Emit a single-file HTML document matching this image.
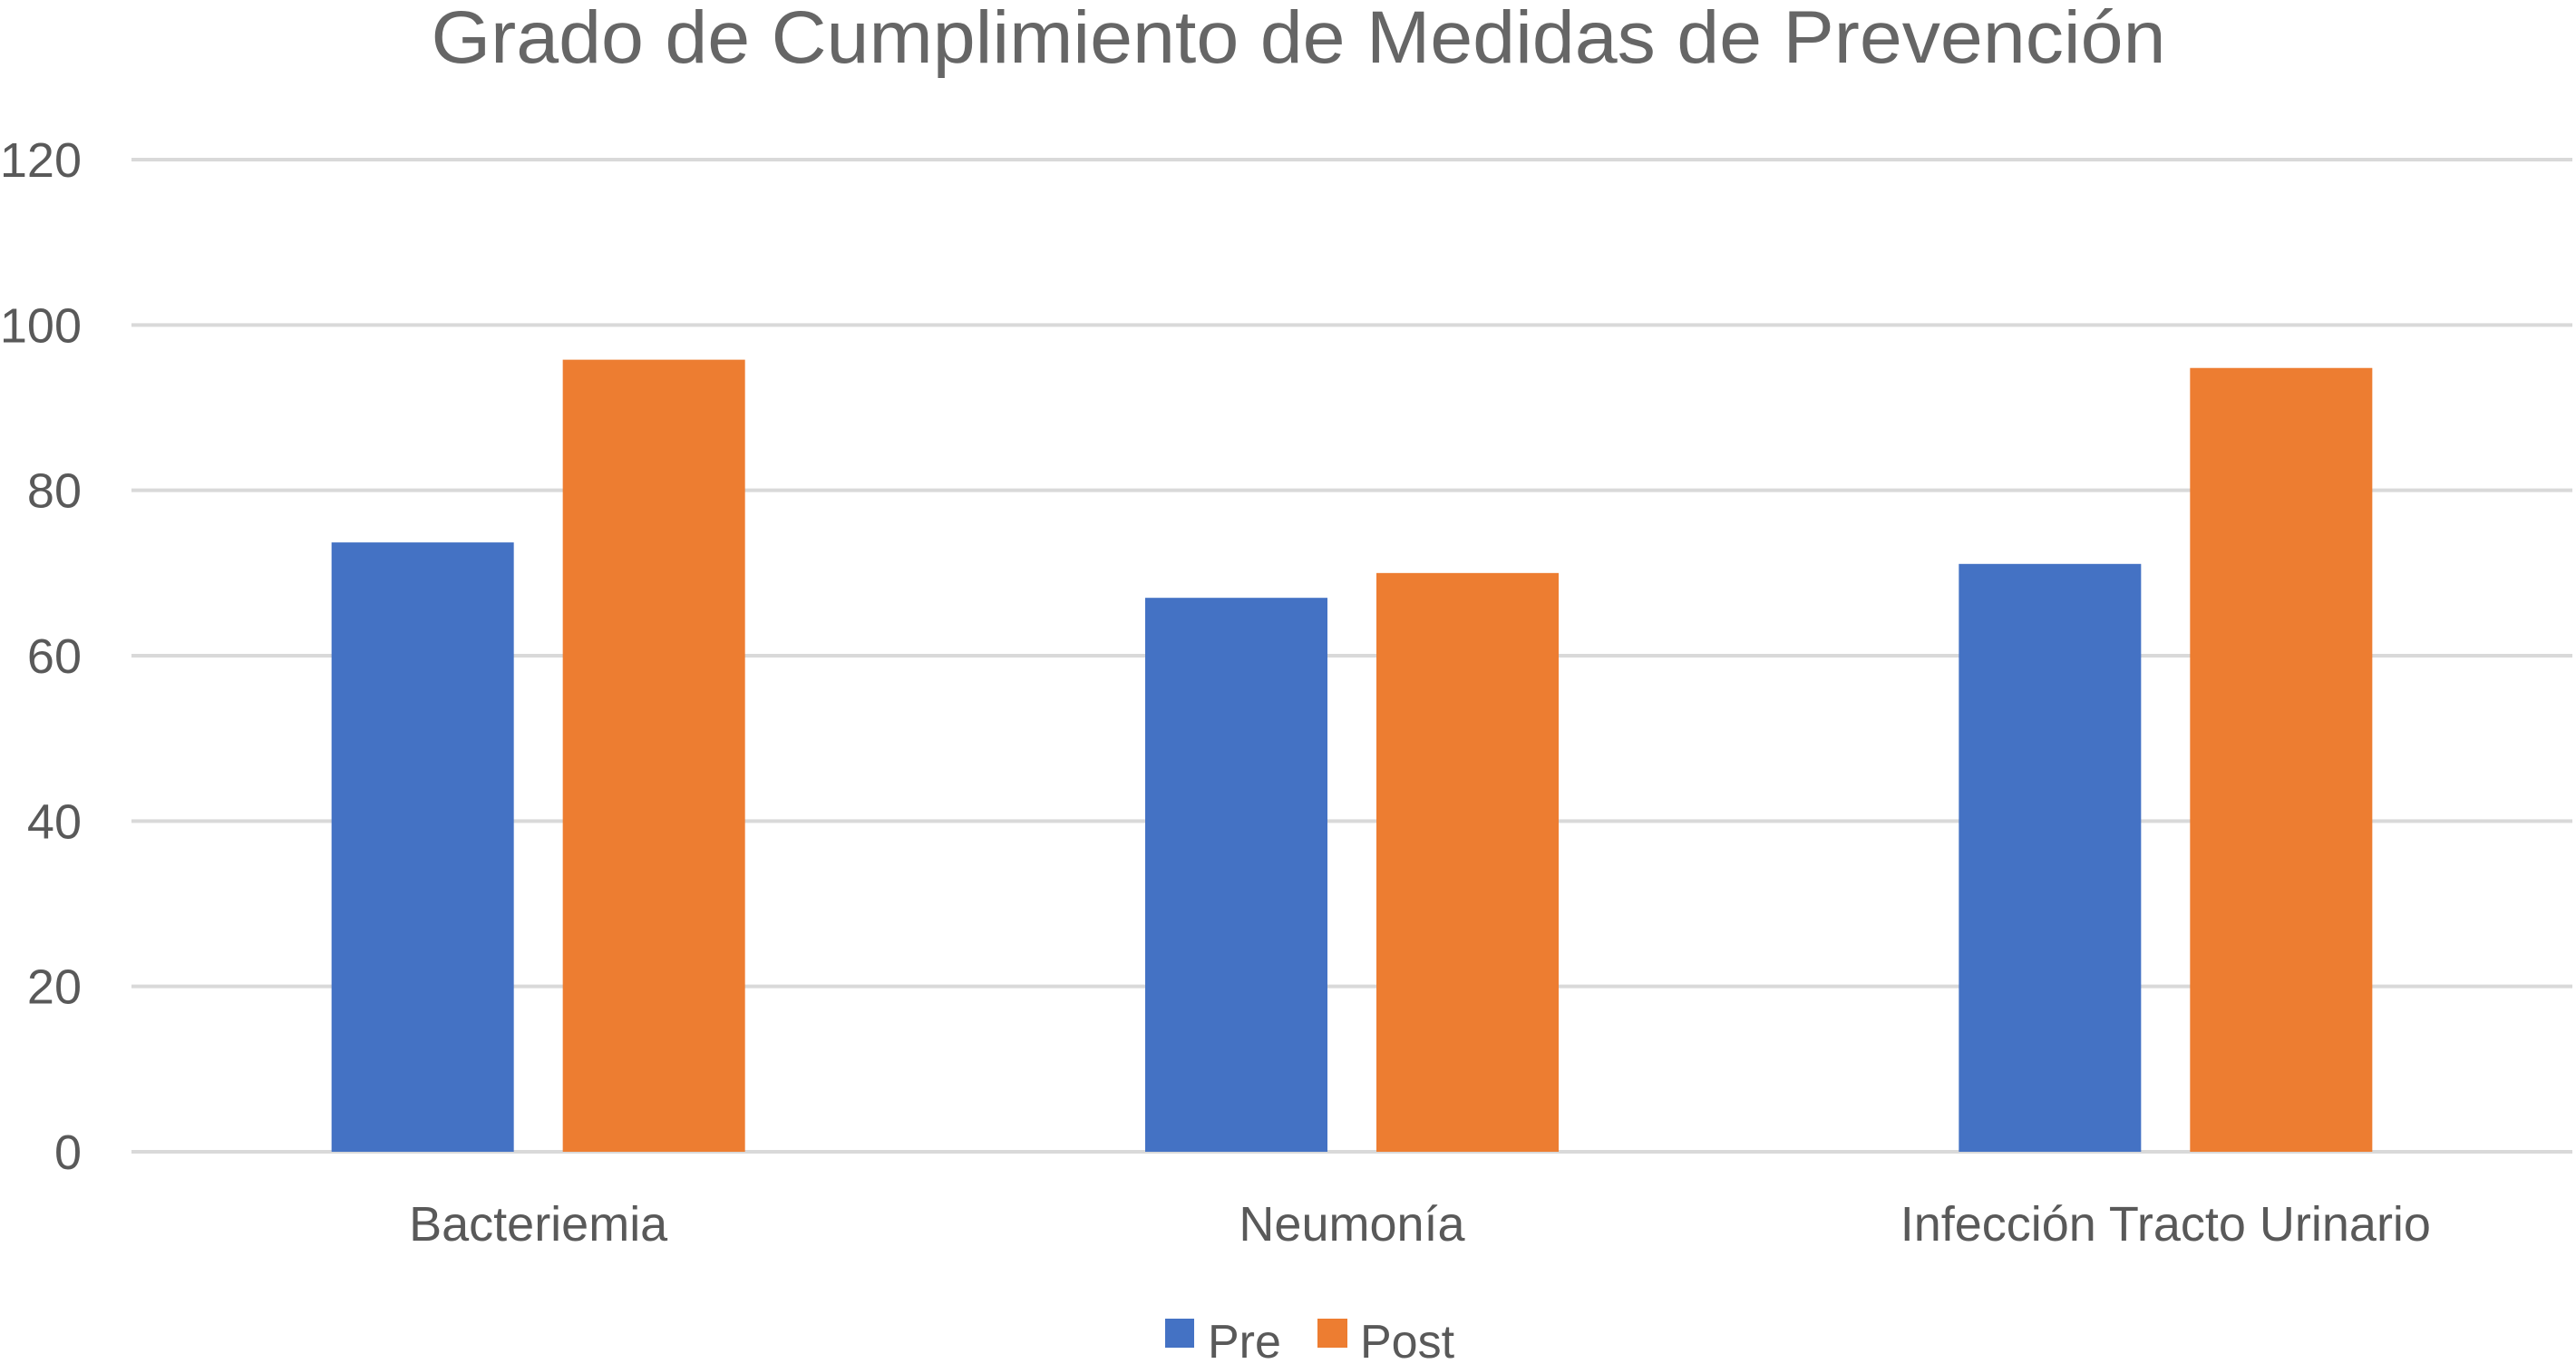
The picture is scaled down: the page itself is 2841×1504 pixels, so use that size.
<!DOCTYPE html>
<html><head><meta charset="utf-8"><style>
html,body{margin:0;padding:0;background:#fff;}
svg{display:block;font-family:"Liberation Sans",sans-serif;}
</style></head><body>
<svg id="chart" width="2841" height="1504" viewBox="0 0 2841 1504">
<text x="1432" y="69" text-anchor="middle" font-size="82" fill="#666666" textLength="1913" lengthAdjust="spacingAndGlyphs">Grado de Cumplimiento de Medidas de Prevención</text>
<g id="grid"></g><g id="bars"></g><g id="xlabels"></g>
<g>
<rect x="1285" y="1454" width="32" height="32" fill="#4472C4"/>
<text x="1332" y="1497" font-size="52" fill="#595959">Pre</text>
<rect x="1453" y="1454" width="33" height="32" fill="#ED7D31"/>
<text x="1500" y="1497" font-size="52" fill="#595959">Post</text>
</g>
</svg>
<script>
const categories = ["Bacteriemia", "Neumonía", "Infección Tracto Urinario"];
const preValues = [73.7, 67, 71.1];
const postValues = [95.8, 70, 94.8];
const yTicks = [0, 20, 40, 60, 80, 100, 120];
const NS = "http://www.w3.org/2000/svg";
const plotL = 145, plotR = 2837, y0 = 1270, y120 = 176;
function y(v){ return y0 - (v/120)*(y0-y120); }
const catW = (plotR-plotL)/categories.length;
function xc(i){ return plotL + catW*(i+0.5); }
function mk(tag, attrs, parent){ const e=document.createElementNS(NS,tag); for(const k in attrs) e.setAttribute(k,attrs[k]); parent.appendChild(e); return e; }
const grid=document.getElementById('grid');
yTicks.forEach(t=>{
  const l=mk('line',{x1:plotL,x2:plotR,y1:y(t),y2:y(t),stroke:'#D9D9D9','stroke-width':4},grid);
  
  
  const tx=mk('text',{x:90,y:y(t)+19,'text-anchor':'end','font-size':54,fill:'#595959'},grid);
  tx.textContent=t;
  
  
});
const bars=document.getElementById('bars');
const bw=201, gap=54;
categories.forEach((c,i)=>{
  const cx=xc(i);
  const b1=mk('rect',{x:cx-gap/2-bw,y:y(preValues[i]),width:bw,height:y(0)-y(preValues[i]),fill:'#4472C4'},bars);
  
  
  const b2=mk('rect',{x:cx+gap/2,y:y(postValues[i]),width:bw,height:y(0)-y(postValues[i]),fill:'#ED7D31'},bars);
  
  
  const t=mk('text',{x:cx,y:1368,'text-anchor':'middle','font-size':54,fill:'#595959'},document.getElementById('xlabels'));
  t.textContent=c;
  
  
});
</script>
</body></html>
